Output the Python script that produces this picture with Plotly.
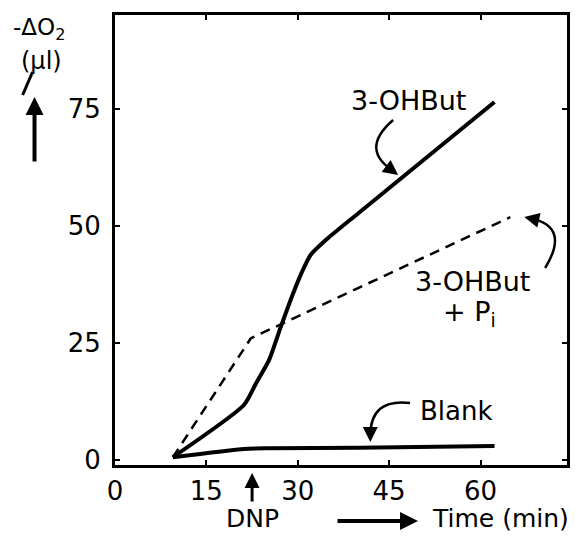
import plotly.graph_objects as go

# ---- data ----
ohbut_t = [9.5, 21.2, 23.2, 25.3, 27.2, 29.0, 30.7, 32.1, 34.6, 40.0, 62.3]
ohbut_o2 = [0.6, 11.8, 16.5, 21.4, 28.4, 34.8, 40.2, 43.8, 47.0, 52.8, 76.5]

ohbut_pi_t = [9.5, 22.3, 40.0, 64.9]
ohbut_pi_o2 = [0.6, 26.0, 36.8, 51.9]

blank_t = [9.5, 21.2, 25.0, 40.0, 62.3]
blank_o2 = [0.6, 2.35, 2.5, 2.6, 3.0]

x_ticks = [0, 15, 30, 45, 60]
y_ticks = [0, 25, 50, 75]

FONT = "DejaVu Sans"
W, H = 575, 536
L, R, T, B = 115, 5, 15, 71


def px(x, y):
    """pixel position -> paper coordinates"""
    return (x - L) / (W - L - R), (H - B - y) / (H - T - B)


def path_q(p0, c, p1):
    a = px(*p0)
    b = px(*c)
    d = px(*p1)
    return f"M {a[0]:.4f} {a[1]:.4f} Q {b[0]:.4f} {b[1]:.4f} {d[0]:.4f} {d[1]:.4f}"


fig = go.Figure()
fig.add_trace(go.Scatter(x=ohbut_t, y=ohbut_o2, mode="lines",
                         line=dict(color="black", width=4, shape="spline", smoothing=0.6),
                         showlegend=False))
fig.add_trace(go.Scatter(x=ohbut_pi_t, y=ohbut_pi_o2, mode="lines",
                         line=dict(color="black", width=2.5, dash="10px,7px"),
                         showlegend=False))
fig.add_trace(go.Scatter(x=blank_t, y=blank_o2, mode="lines",
                         line=dict(color="black", width=4, shape="spline", smoothing=0.6),
                         showlegend=False))

annotations = []


def text(s, x, y, size=26, xanchor="center"):
    p = px(x, y)
    annotations.append(dict(text=s, x=p[0], y=p[1], xref="paper", yref="paper",
                            showarrow=False, xanchor=xanchor, yanchor="middle",
                            font=dict(family=FONT, size=size, color="black")))


def arrow(head, tail, width=2, size=1.0, style=2):
    p = px(*head)
    annotations.append(dict(text="", x=p[0], y=p[1], xref="paper", yref="paper",
                            showarrow=True, ax=tail[0] - head[0], ay=tail[1] - head[1],
                            arrowhead=style, arrowwidth=width, arrowsize=size,
                            arrowcolor="black"))


text("-ΔO<sub>2</sub>", 38, 29, size=23)
text("(µl)", 41, 61, size=24)
arrow((34, 97), (34, 163), width=4, size=0.9)

text("3-OHBut", 410, 100, size=27)
text("3-OHBut", 475, 281, size=27)
text("+ P<sub>i</sub>", 472, 313, size=27)
text("Blank", 459, 411, size=26)
text("DNP", 253, 518, size=25)
text("Time (min)", 574, 518, size=25, xanchor="right")

arrow((253, 473), (253, 503), width=3, size=1.0)
arrow((420, 521), (338, 521), width=4, size=0.9)

# curved pointer arrows
arrow((400, 175), (392, 169), width=2, size=1.5)
arrow((527, 217), (536, 219), width=2, size=1.5)
arrow((372, 442), (372, 433), width=2, size=1.5)

shapes = [
    dict(type="path", xref="paper", yref="paper",
         path=path_q((395, 120), (360, 150), (397, 172)),
         line=dict(color="black", width=2.5)),
    dict(type="path", xref="paper", yref="paper",
         path=path_q((548, 268), (574, 226), (532, 218)),
         line=dict(color="black", width=2.5)),
    dict(type="path", xref="paper", yref="paper",
         path=path_q((412, 403), (372, 398), (372, 436)),
         line=dict(color="black", width=2.5)),
]
# slash through the micro sign
s0 = px(22, 95)
s1 = px(32, 72)
shapes.append(dict(type="line", xref="paper", yref="paper",
                   x0=s0[0], y0=s0[1], x1=s1[0], y1=s1[1],
                   line=dict(color="black", width=3)))

fig.update_layout(
    width=W, height=H, autosize=False,
    margin=dict(l=L, r=R, t=T, b=B),
    paper_bgcolor="white", plot_bgcolor="white",
    font=dict(family=FONT, size=26, color="black"),
    annotations=annotations, shapes=shapes,
    showlegend=False,
)
fig.update_xaxes(range=[0, 74.2], tickvals=x_ticks, ticktext=[str(v) for v in x_ticks],
                 showgrid=False, zeroline=False, showline=True, linecolor="black",
                 linewidth=3, mirror="ticks", ticks="inside", ticklen=5, tickwidth=2,
                 tickcolor="black", ticklabelstandoff=1,
                 tickfont=dict(family=FONT, size=26, color="black"))
fig.update_yaxes(range=[-1.07, 95.1], tickvals=y_ticks, ticktext=[str(v) for v in y_ticks],
                 showgrid=False, zeroline=False, showline=True, linecolor="black",
                 linewidth=3, mirror="ticks", ticks="inside", ticklen=5, tickwidth=2,
                 tickcolor="black", ticklabelstandoff=6,
                 tickfont=dict(family=FONT, size=26, color="black"))

fig.write_html("out.html")
